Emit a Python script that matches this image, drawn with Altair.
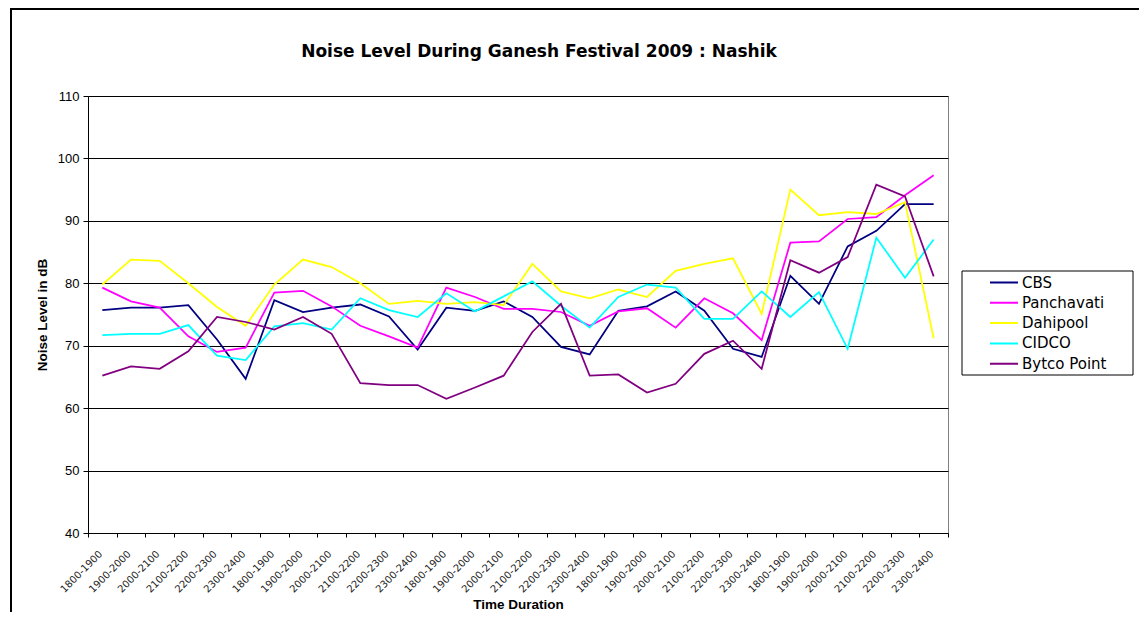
import altair as alt
import pandas as pd

title_text = "Noise Level During Ganesh Festival 2009 : Nashik"
slots = ["1800-1900", "1900-2000", "2000-2100", "2100-2200", "2200-2300", "2300-2400"]
n_days = 5
sites = ["CBS", "Panchavati", "Dahipool", "CIDCO", "Bytco Point"]
colors = ["#000080", "#FF00FF", "#FFFF00", "#00FFFF", "#800080"]
y_ticks = [40, 50, 60, 70, 80, 90, 100, 110]

cbs = [75.7, 76.1, 76.1, 76.5, 71.0, 64.7, 77.3, 75.4, 76.1, 76.6,
       74.7, 69.4, 76.1, 75.6, 77.1, 74.6, 69.8, 68.6, 75.6, 76.3,
       78.7, 75.6, 69.5, 68.2, 81.2, 76.7, 85.9, 88.4, 92.7, 92.7]
panchavati = [79.3, 77.1, 76.1, 71.5, 69.0, 69.7, 78.5, 78.8, 76.3, 73.2,
              71.5, 69.7, 79.3, 77.8, 75.9, 75.9, 75.4, 73.2, 75.5, 76.0,
              72.9, 77.6, 75.2, 70.9, 86.5, 86.7, 90.3, 90.6, 94.1, 97.3]
dahipool = [79.8, 83.8, 83.6, 80.0, 76.2, 73.2, 79.8, 83.8, 82.6, 80.0,
            76.7, 77.2, 76.7, 77.0, 76.5, 83.1, 78.7, 77.6, 79.0, 77.8,
            82.0, 83.1, 84.0, 75.1, 95.0, 90.9, 91.4, 91.1, 93.0, 71.2]
cidco = [71.7, 71.9, 71.9, 73.3, 68.4, 67.7, 73.1, 73.6, 72.6, 77.6,
         75.7, 74.6, 78.4, 75.5, 77.9, 80.3, 76.4, 72.9, 77.8, 79.8,
         79.3, 74.3, 74.3, 78.7, 74.6, 78.6, 69.5, 87.3, 80.9, 87.0]
bytco = [65.2, 66.7, 66.3, 69.1, 74.6, 73.8, 72.6, 74.6, 71.9, 64.0,
         63.7, 63.7, 61.5, 63.3, 65.2, 72.2, 76.7, 65.2, 65.4, 62.5,
         63.9, 68.7, 70.8, 66.3, 83.7, 81.7, 84.2, 95.8, 93.9, 81.1]

rows = []
for site, vals in zip(sites, [cbs, panchavati, dahipool, cidco, bytco]):
    for i, v in enumerate(vals):
        rows.append({"idx": i, "site": site, "level": v})
df = pd.DataFrame(rows)

label_expr = "[" + ",".join("'%s'" % s for s in slots) + "][datum.value %% %d]" % len(slots)

W, H = 860, 437

x_enc = alt.X(
    "idx:O",
    scale=alt.Scale(type="band", paddingInner=0, paddingOuter=0),
    bandPosition=0.5,
    axis=alt.Axis(
        title="Time Duration",
        titleFont="Liberation Sans", titleFontSize=13.5, titleFontWeight="bold",
        titleColor="black", titleX=W / 2, titleY=71, titleBaseline="middle",
        labelExpr=label_expr, labelAngle=315, labelAlign="right", labelBaseline="middle",
        labelFont="DejaVu Sans", labelFontSize=10, labelColor="#222222",
        labelPadding=15, labelOffset=-2, labelOverlap=False,
        tickBand="extent", tickSize=4, tickColor="black",
        domainColor="black", grid=False,
    ),
)
y_enc = alt.Y(
    "level:Q",
    scale=alt.Scale(domain=[40, 110], nice=False, zero=False),
    axis=alt.Axis(
        title="Noise Level in dB",
        titleFont="Liberation Sans", titleFontSize=13.5, titleFontWeight="bold",
        titleColor="black", titleX=-46, titleY=H / 2, titleAngle=270,
        titleBaseline="middle", titleAlign="center",
        values=y_ticks, labelFont="Liberation Sans", labelFontSize=13,
        labelColor="black", labelPadding=4, tickSize=5, tickColor="black",
        domainColor="black", grid=True, gridColor="black", gridWidth=1,
    ),
)

lines = alt.Chart(df).mark_line(strokeWidth=1.75).encode(
    x=x_enc,
    y=y_enc,
    color=alt.Color(
        "site:N",
        scale=alt.Scale(domain=sites, range=colors),
        sort=sites,
        legend=alt.Legend(
            title=None, orient="none", legendX=901, legendY=176.5, padding=0,
            symbolType="stroke", symbolSize=784, symbolStrokeWidth=2,
            labelFont="DejaVu Sans", labelFontSize=15, labelColor="black",
            labelOffset=3, clipHeight=20, rowPadding=0.3,
        ),
    ),
    detail="site:N",
)

one = pd.DataFrame({"k": [0]})
frame = alt.Chart(one).mark_rect(filled=False, stroke="black", strokeWidth=2).encode(
    x=alt.value(-77), x2=alt.value(1200), y=alt.value(-87), y2=alt.value(700)
)
legend_box = alt.Chart(one).mark_rect(fill="white", stroke="black", strokeWidth=1).encode(
    x=alt.value(874), x2=alt.value(1045), y=alt.value(175), y2=alt.value(279)
)
title = alt.Chart(one).mark_text(
    font="DejaVu Sans", fontSize=17, fontWeight="bold", color="black",
    align="center", baseline="alphabetic",
).encode(x=alt.value(451), y=alt.value(-39), text=alt.value(title_text))

chart = alt.layer(frame, legend_box, title, lines).properties(
    width=W,
    height=H,
    autosize=alt.AutoSizeParams(type="none"),
    padding={"left": 80, "top": 88, "right": 191, "bottom": 79},
    background="white",
).configure_view(stroke="#808080", strokeWidth=1)

chart.save("out.html", embed_options={"renderer": "svg", "actions": False})
